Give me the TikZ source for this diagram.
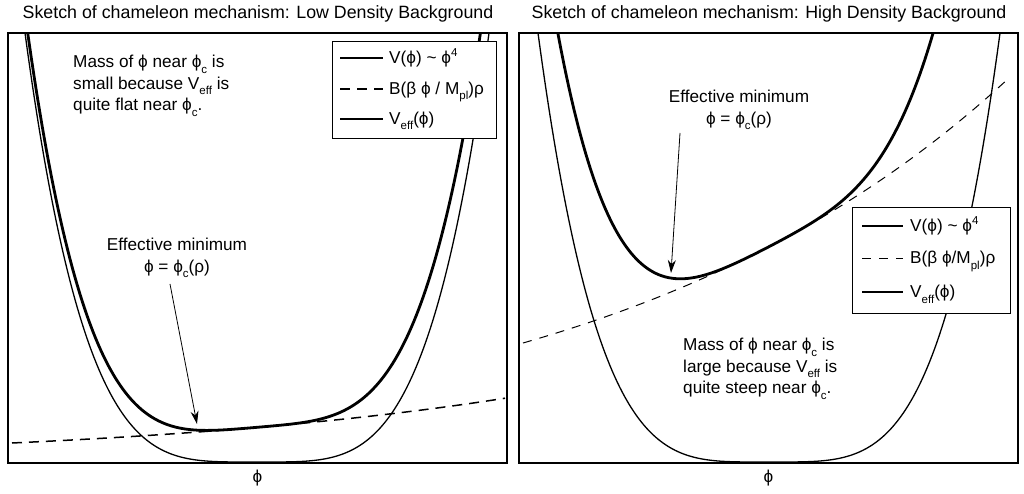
\documentclass[tikz,border=0pt]{standalone}
\usepackage{fontspec}
\setmainfont{Liberation Sans}
\usetikzlibrary{arrows.meta, positioning}
\newcommand{\lsub}[1]{\raisebox{-5.5pt}{\fontsize{11.5}{11.5}\selectfont #1}}
\newcommand{\lsup}[1]{\raisebox{6.5pt}{\fontsize{11.5}{11.5}\selectfont #1}}

\begin{document}
\begin{tikzpicture}[x=1pt, y=-1pt,
    every node/.style={font=\fontsize{17.2}{21.5}\selectfont, inner sep=0pt},
    heading/.style={font=\fontsize{17.8}{21.5}\selectfont},
    frame/.style={line width=2.2pt},
    vpot/.style={line width=1.3pt},
    veff/.style={line width=2.8pt},
    bcoup/.style={line width=1.5pt, dash pattern=on 10pt off 7pt},
    bcoupthin/.style={line width=1pt, dash pattern=on 9pt off 8pt},
    legbox/.style={draw, line width=1pt, fill=white},
    pointer/.style={line width=0.8pt, -{Stealth[length=13pt, width=8pt]}}]
        \useasboundingbox (0,0) rectangle (1024,494);
        % Titles
        \node[heading] (titlelo) at (258,14) {Sketch of chameleon mechanism: Low Density Background};
        \node[heading] (titlehi) at (769,14) {Sketch of chameleon mechanism: High Density Background};
        % Low density curves
        \begin{scope}
            \clip (8,33) rectangle (507,463);
            \draw[bcoup] plot[domain=12:505, samples=60] (\x, {462-19*exp(0.00245*(\x-12))});
            \draw[vpot] plot[domain=20:495, samples=200] (\x, {462-429*pow(((\x-257)/232)*((\x-257)/232),2)});
            \draw[veff] plot[domain=20:495, samples=200] (\x, {462-429*pow(((\x-257)/232)*((\x-257)/232),2)-19*exp(0.00245*(\x-12))});
        \end{scope}
        % High density curves
        \begin{scope}
            \clip (519,33) rectangle (1018,463);
            \draw[bcoupthin] plot[domain=523:1010, samples=60] (\x, {462-119*exp(0.00241*(\x-523))});
            \draw[vpot] plot[domain=530:1012, samples=200] (\x, {462-429*pow(((\x-769)/231)*((\x-769)/231),2)});
            \draw[veff] plot[domain=530:1012, samples=200] (\x, {462-429*pow(((\x-769)/231)*((\x-769)/231),2)-119*exp(0.00241*(\x-523))});
        \end{scope}
        % Notes
        \node (masslo) [align=left, anchor=west] at (73,86) {Mass of ϕ near ϕ\lsub{c} is\\small because V\lsub{eff} is\\quite flat near ϕ\lsub{c}.};
        \node (masshi) [align=left, anchor=west] at (683,369) {Mass of ϕ near ϕ\lsub{c} is\\large because V\lsub{eff} is\\quite steep near ϕ\lsub{c}.};
        \node (efflo) [align=center] at (177,258) {Effective minimum\\ϕ = ϕ\lsub{c}(ρ)};
        \node (effhi) [align=center] at (739,110) {Effective minimum\\ϕ = ϕ\lsub{c}(ρ)};
        \coordinate (minlo) at (197,424);
        \coordinate (minhi) at (671,273);
        \draw[pointer] ([xshift=-7pt, yshift=-6pt]efflo.south) -- (minlo);
        \draw[pointer] ([xshift=-59pt, yshift=-3pt]effhi.south) -- (minhi);
        % Legends
        \node[legbox, minimum width=164pt, minimum height=97pt] (leglo) at (414,90.5) {};
        \node[anchor=base west] (leglo1) at (389,63.5) {V(ϕ) \textasciitilde{} ϕ\lsup{4}};
        \node[anchor=base west] (leglo2) at (389,94.5) {B(β ϕ / M\lsub{pl})ρ};
        \node[anchor=base west] (leglo3) at (389,124.5) {V\lsub{eff}(ϕ)};
        \draw[vpot] ([xshift=-49pt, yshift=5.5pt]leglo1.base west) -- ++(43pt,0);
        \draw[bcoup] ([xshift=-49pt, yshift=5.5pt]leglo2.base west) -- ++(43pt,0);
        \draw[veff] ([xshift=-49pt, yshift=5.5pt]leglo3.base west) -- ++(43pt,0);
        \node[legbox, minimum width=158pt, minimum height=105pt] (leghi) at (931,260.5) {};
        \node[anchor=base west] (leghi1) at (910,231.5) {V(ϕ) \textasciitilde{} ϕ\lsup{4}};
        \node[anchor=base west] (leghi2) at (910,263.5) {B(β ϕ/M\lsub{pl})ρ};
        \node[anchor=base west] (leghi3) at (910,297.5) {V\lsub{eff}(ϕ)};
        \draw[vpot] ([xshift=-48pt, yshift=5.5pt]leghi1.base west) -- ++(41pt,0);
        \draw[bcoupthin] ([xshift=-48pt, yshift=5.5pt]leghi2.base west) -- ++(41pt,0);
        \draw[veff] ([xshift=-48pt, yshift=5.5pt]leghi3.base west) -- ++(41pt,0);
        % Frames and axis labels
        \foreach \p/\xa/\xb in {lo/8/507, hi/519/1018} {
            \draw[frame] (\xa,33) rectangle (\xb,463);
            \node (phi\p) at ({(\xa+\xb)/2},478) {ϕ};
        }
\end{tikzpicture}
\end{document}
